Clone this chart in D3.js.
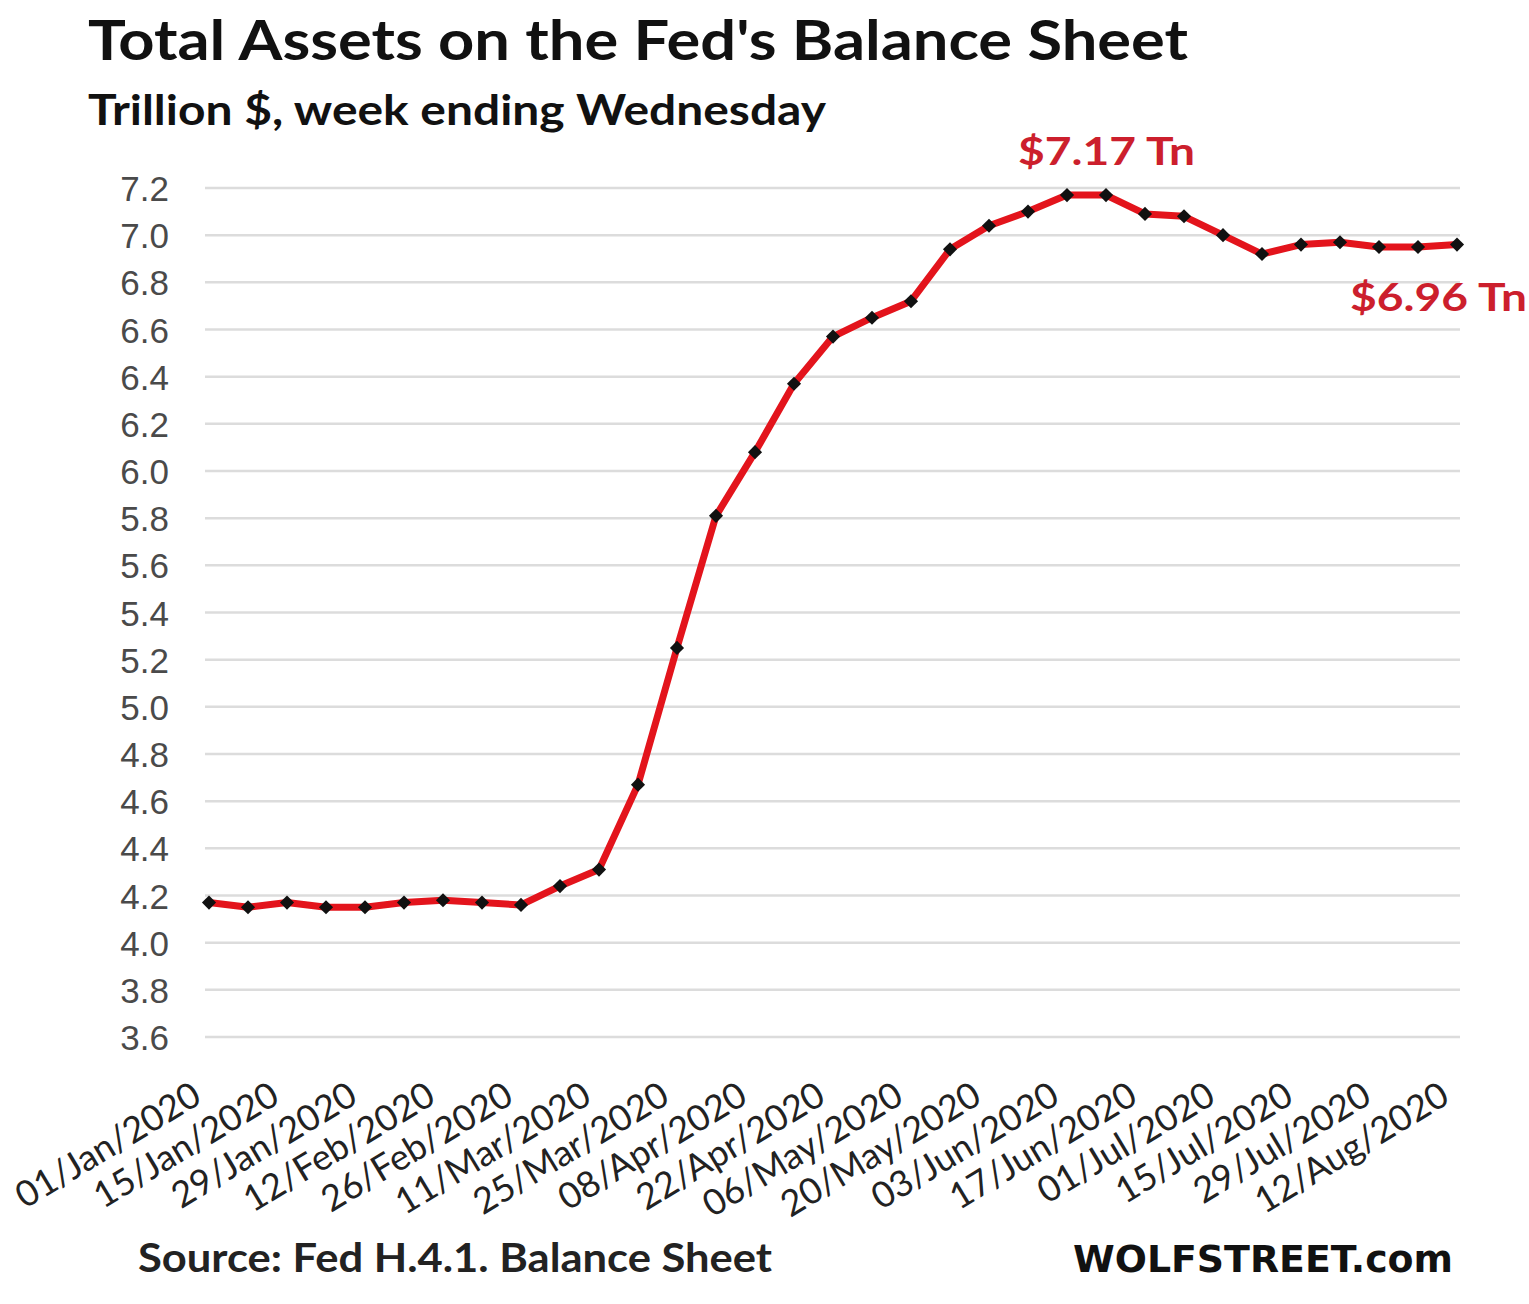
<!DOCTYPE html>
<html><head><meta charset="utf-8">
<script src="https://cdn.jsdelivr.net/npm/d3@7"></script>
<style>html,body{margin:0;padding:0;background:#fff;}svg{display:block;}</style>
</head><body>
<svg id="chart" width="1529" height="1304"></svg>
<script>
const weeks = ["01/Jan/2020","08/Jan/2020","15/Jan/2020","22/Jan/2020","29/Jan/2020","05/Feb/2020","12/Feb/2020","19/Feb/2020","26/Feb/2020","04/Mar/2020","11/Mar/2020","18/Mar/2020","25/Mar/2020","01/Apr/2020","08/Apr/2020","15/Apr/2020","22/Apr/2020","29/Apr/2020","06/May/2020","13/May/2020","20/May/2020","27/May/2020","03/Jun/2020","10/Jun/2020","17/Jun/2020","24/Jun/2020","01/Jul/2020","08/Jul/2020","15/Jul/2020","22/Jul/2020","29/Jul/2020","05/Aug/2020","12/Aug/2020"];
const totalAssets = [4.17,4.15,4.17,4.15,4.15,4.17,4.18,4.17,4.16,4.24,4.31,4.67,5.25,5.81,6.08,6.37,6.57,6.65,6.72,6.94,7.04,7.10,7.17,7.17,7.09,7.08,7.00,6.92,6.96,6.97,6.95,6.95,6.96];
const yTicks = [3.6,3.8,4.0,4.2,4.4,4.6,4.8,5.0,5.2,5.4,5.6,5.8,6.0,6.2,6.4,6.6,6.8,7.0,7.2];
const xTickLabels = weeks.filter((d,i)=>i%2===0);
const title = "Total Assets on the Fed's Balance Sheet";
const subtitle = "Trillion $, week ending Wednesday";
const peakLabel = "$7.17 Tn";
const lastLabel = "$6.96 Tn";
const sourceText = "Source: Fed H.4.1. Balance Sheet";
const brandText = "WOLFSTREET.com";

const svg = d3.select("#chart");
const x = d3.scalePoint().domain(weeks).range([209,1457]);
const y = d3.scaleLinear().domain([3.6,7.2]).range([1037,188]);

// grid
svg.append("g").selectAll("line").data(yTicks).join("line")
  .attr("x1",205).attr("x2",1460)
  .attr("y1",d=>y(d)).attr("y2",d=>y(d))
  .attr("stroke","#dcdcdc").attr("stroke-width",2.5);

// y axis
const yAxis = svg.append("g").attr("transform","translate(169,0)")
  .call(d3.axisLeft(y).tickValues(yTicks).tickSize(0).tickPadding(0).tickFormat(d3.format(".1f")));
yAxis.select(".domain").remove();
yAxis.selectAll("text").attr("font-family","'Liberation Sans', Arial, sans-serif")
  .attr("font-size",35).attr("fill","#4a4a4a").attr("dy","0.36em");

// x axis
const xAxis = svg.append("g").attr("transform","translate(0,1040)")
  .call(d3.axisBottom(x).tickValues(xTickLabels).tickSize(0).tickPadding(0));
xAxis.select(".domain").remove();
xAxis.selectAll("text")
  .attr("font-family","Lato, 'Open Sans', sans-serif").attr("font-size",36).attr("fill","#222")
  .attr("text-anchor","end").attr("y",0).attr("dy",0)
  .attr("transform","translate(-6,62) rotate(-31)");

// line
const line = d3.line().x((d,i)=>x(weeks[i])).y(d=>y(d));
svg.append("path").datum(totalAssets).attr("d",line)
  .attr("fill","none").attr("stroke","#e3141c").attr("stroke-width",7).attr("stroke-linejoin","round");

// markers
svg.append("g").selectAll("path").data(totalAssets).join("path")
  .attr("d",d3.symbol(d3.symbolSquare,100))
  .attr("transform",(d,i)=>`translate(${x(weeks[i])},${y(d)}) rotate(45)`)
  .attr("fill","#111");

// titles
svg.append("text").text(title).attr("x",88).attr("y",60)
  .attr("font-family","Lato, sans-serif").attr("font-weight","bold").attr("font-size",56).attr("fill","#111")
  .attr("textLength",1100).attr("lengthAdjust","spacingAndGlyphs");
svg.append("text").text(subtitle).attr("x",88).attr("y",125)
  .attr("font-family","Lato, sans-serif").attr("font-weight","bold").attr("font-size",42).attr("fill","#111")
  .attr("textLength",738).attr("lengthAdjust","spacingAndGlyphs");

// annotations
const iPeak = totalAssets.indexOf(d3.max(totalAssets));
svg.append("text").text(peakLabel)
  .attr("x",(x(weeks[iPeak])+x(weeks[iPeak+1]))/2+20).attr("y",y(totalAssets[iPeak])-30)
  .attr("text-anchor","middle").attr("font-family","Lato, sans-serif").attr("font-weight","bold")
  .attr("font-size",38).attr("fill","#cc1f2d").attr("textLength",177).attr("lengthAdjust","spacingAndGlyphs");
const iLast = totalAssets.length-1;
svg.append("text").text(lastLabel)
  .attr("x",1527).attr("y",y(totalAssets[iLast])+66)
  .attr("text-anchor","end").attr("font-family","Lato, sans-serif").attr("font-weight","bold")
  .attr("font-size",38).attr("fill","#cc1f2d").attr("textLength",177).attr("lengthAdjust","spacingAndGlyphs");

// footer
svg.append("text").text(sourceText).attr("x",138).attr("y",1272)
  .attr("font-family","Lato, sans-serif").attr("font-weight","bold").attr("font-size",40).attr("fill","#222")
  .attr("textLength",634).attr("lengthAdjust","spacingAndGlyphs");
svg.append("text").text(brandText).attr("x",1453).attr("y",1272).attr("text-anchor","end")
  .attr("font-family","'DejaVu Sans', Verdana, sans-serif").attr("font-weight","bold").attr("font-size",38).attr("fill","#111")
  .attr("textLength",380).attr("lengthAdjust","spacingAndGlyphs");
</script>
</body></html>
